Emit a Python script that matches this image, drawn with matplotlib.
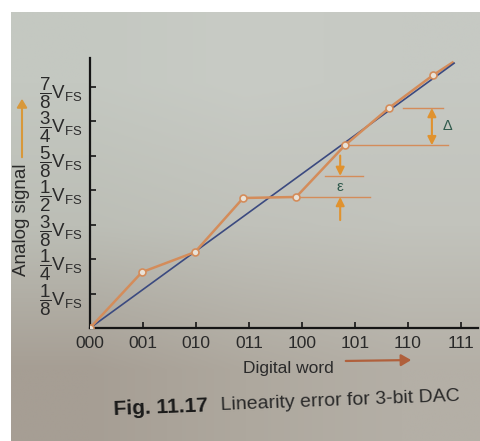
import numpy as np
import matplotlib
matplotlib.use("Agg")
import matplotlib.pyplot as plt

plt.rcParams["font.family"] = ["Liberation Sans", "DejaVu Sans"]
plt.rcParams["mathtext.fontset"] = "custom"
plt.rcParams["mathtext.rm"] = "Liberation Sans"
plt.rcParams["mathtext.it"] = "Liberation Sans"
plt.rcParams["mathtext.default"] = "regular"

# ── Data (x in code steps, y in eighths of V_FS) ─────────────────────────────
codes = [0, 1, 2, 3, 4, 5, 6, 7]
code_labels = ["000", "001", "010", "011", "100", "101", "110", "111"]
levels = [1, 2, 3, 4, 5, 6, 7]
level_labels = [r"$\dfrac{1}{8}\mathrm{V}_{\mathrm{FS}}$", r"$\dfrac{1}{4}\mathrm{V}_{\mathrm{FS}}$",
                r"$\dfrac{3}{8}\mathrm{V}_{\mathrm{FS}}$", r"$\dfrac{1}{2}\mathrm{V}_{\mathrm{FS}}$",
                r"$\dfrac{5}{8}\mathrm{V}_{\mathrm{FS}}$", r"$\dfrac{3}{4}\mathrm{V}_{\mathrm{FS}}$",
                r"$\dfrac{7}{8}\mathrm{V}_{\mathrm{FS}}$"]

ideal_x = [0, 6.87]
ideal_y = [0, 7.68]

actual_x = [0, 0.98, 1.98, 2.89, 3.89, 4.81, 5.64, 6.47]
actual_y = [0, 1.62, 2.2, 3.77, 3.8, 5.3, 6.38, 7.33]
tail_x = [6.47, 6.84]
tail_y = [7.33, 7.70]

# error markers
eps_level = 4.41
delta_hi = 6.38
delta_lo = 5.30

ORANGE = "#d48c5a"
ARROW = "#e0922e"
BLUE = "#3b4a80"
INK = "#2a2a2a"
TEAL = "#2f5a4c"

fig = plt.figure(figsize=(4.81, 4.41), dpi=100)
fig.patch.set_facecolor("white")

# photo-like paper background
bg = fig.add_axes([11 / 481, 0, 1 - 11 / 481, 1 - 12 / 441])
grad = np.array([
    [[196, 200, 193], [200, 203, 197], [198, 201, 195]],
    [[188, 190, 182], [192, 193, 186], [194, 195, 188]],
    [[166, 158, 148], [174, 168, 158], [180, 175, 166]],
]) / 255.0
bg.imshow(grad, aspect="auto", interpolation="bilinear", extent=[0, 1, 0, 1])
bg.set_axis_off()

ax = fig.add_axes([90 / 481, 1 - 328 / 441, 388 / 481, 270 / 441])
ax.patch.set_alpha(0)
ax.set_xlim(0, 7.32)
ax.set_ylim(0, 7.83)

ax.plot(ideal_x, ideal_y, color=BLUE, lw=1.2, zorder=3)
ax.plot(tail_x, tail_y, color=ORANGE, lw=1.8, zorder=2)
ax.plot(actual_x, actual_y, color=ORANGE, lw=1.8, marker="o", ms=5,
        mfc="#e9e2d8", mec=ORANGE, mew=1.2, zorder=4)

# guide lines
ax.plot([actual_x[4], 5.28], [actual_y[4], actual_y[4]], color=ORANGE, lw=1, zorder=2)
ax.plot([4.43, 5.15], [eps_level, eps_level], color=ORANGE, lw=1, zorder=2)
ax.plot([actual_x[5], 6.75], [delta_lo, delta_lo], color=ORANGE, lw=1, zorder=2)
ax.plot([5.9, 6.66], [delta_hi, delta_hi], color=ORANGE, lw=1, zorder=2)

# Δ double arrow
ax.annotate("", xy=(6.45, delta_hi), xytext=(6.45, delta_lo),
            arrowprops=dict(arrowstyle="<|-|>,head_length=0.5,head_width=0.25",
                            color=ARROW, lw=1.5, shrinkA=0, shrinkB=0))
ax.text(6.74, 5.86, r"$\Delta$", color=TEAL, fontsize=10.5, ha="center", va="center")

# ε arrows
ax.annotate("", xy=(4.72, eps_level), xytext=(4.72, 5.0),
            arrowprops=dict(arrowstyle="-|>,head_length=0.5,head_width=0.25",
                            color=ARROW, lw=1.5, shrinkA=0, shrinkB=0))
ax.annotate("", xy=(4.72, actual_y[4]), xytext=(4.72, 3.13),
            arrowprops=dict(arrowstyle="-|>,head_length=0.5,head_width=0.25",
                            color=ARROW, lw=1.5, shrinkA=0, shrinkB=0))
ax.text(4.72, 4.08, "ε", color=TEAL, fontsize=11, ha="center", va="center")

for side in ["top", "right"]:
    ax.spines[side].set_visible(False)
for side in ["left", "bottom"]:
    ax.spines[side].set_linewidth(1.6)
    ax.spines[side].set_color("#151515")

ax.set_xticks(codes)
ax.set_xticklabels(code_labels, fontsize=12.5, color=INK)
ax.set_yticks(levels)
ax.set_yticklabels(level_labels, fontsize=13.5, color=INK)
ax.tick_params(axis="both", direction="in", length=4, width=1.2, color="#151515")
ax.tick_params(axis="x", pad=6)
ax.tick_params(axis="y", pad=5)

# axis titles with arrows
fig.text(22 / 481, 1 - 220 / 441, "Analog signal", rotation=90, fontsize=13.5,
         color=INK, ha="center", va="center")
fig.add_artist(matplotlib.patches.FancyArrowPatch(
    (22 / 481, 1 - 160 / 441), (22 / 481, 1 - 96 / 441), transform=fig.transFigure,
    arrowstyle="-|>,head_length=5,head_width=3", color="#d8983a", lw=1.5))
fig.text(288 / 481, 1 - 368 / 441, "Digital word", fontsize=12.5, color=INK,
         ha="center", va="center")
fig.add_artist(matplotlib.patches.FancyArrowPatch(
    (343 / 481, 1 - 361 / 441), (414 / 481, 1 - 360 / 441), transform=fig.transFigure,
    arrowstyle="-|>,head_length=6,head_width=3.5", color="#b0603c", lw=1.6))

# caption
fig.text(113 / 481, 1 - 415 / 441, "Fig. 11.17", fontsize=15, fontweight="bold",
         color="#1a1a1a", ha="left", va="baseline", rotation=2.2)
fig.text(220 / 481, 1 - 410 / 441, "Linearity error for 3-bit DAC", fontsize=14,
         color=INK, ha="left", va="baseline", rotation=2.2)

fig.savefig("out.png", dpi=100)
